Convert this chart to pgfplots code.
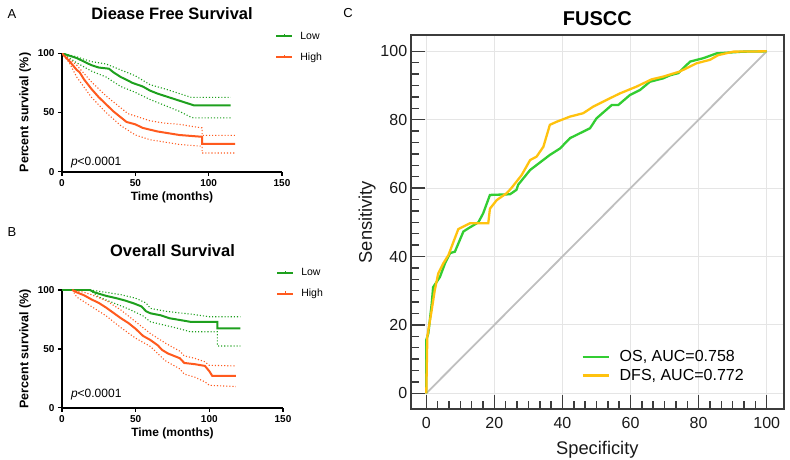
\documentclass[border=0pt]{standalone}
\usepackage{pgfplots}
\pgfplotsset{compat=1.18}
\usepackage{fontspec}
\setmainfont{Liberation Sans}
\definecolor{kmgreen}{RGB}{30,160,30}
\definecolor{kmorange}{RGB}{255,90,30}
\definecolor{rocgreen}{RGB}{50,205,50}
\definecolor{rocyellow}{RGB}{255,194,14}
\definecolor{boxgray}{RGB}{60,60,60}
\newcommand{\fs}[1]{\fontsize{#1}{#1}\selectfont}
\pgfplotsset{
  kmaxis/.style={
    scale only axis, width=220pt,
    xmin=0, xmax=150, ymin=0, ymax=100,
    axis x line*=bottom, axis y line*=left,
    axis line style={line width=1.8pt, -},
    xtick={0,50,100,150}, ytick={0,50,100},
    tick align=outside, major tick length=4pt,
    tick style={line width=1.5pt, black},
    /pgf/number format/assume math mode=true,
    tick label style={font=\bfseries\fs{10}},
    xlabel={Time (months)}, ylabel={Percent survival (\%)},
    xlabel style={font=\bfseries\fs{12}, yshift=1pt},
    ylabel style={font=\bfseries\fs{12.5}, yshift=0pt},
    title style={font=\bfseries\fs{16.5}},
    legend style={draw=none, fill=none, font=\fs{10.5}, inner sep=0pt,
      row sep=8pt, legend cell align=left,
      at={(rel axis cs:0.97,1.20)}, anchor=north west},
    legend image code/.code={\draw[#1,line width=1.5pt] (0pt,0pt) -- (16pt,0pt);
       \draw[#1,line width=1pt] (8pt,-1pt) -- (8pt,2.5pt); \path (21pt,0pt);},
    sharp plot, no marks,
  },
  main/.style={line width=2pt},
  ci/.style={line width=1.1pt, dotted, forget plot},
}
\begin{document}
\begin{tikzpicture}[x=1pt,y=1pt]
\path[use as bounding box] (0,0) rectangle (790,460);
% ---------------- Panel A ----------------
\node[font=\fs{13}] at (12,446) {A};
\begin{axis}[kmaxis, at={(62pt,288.3pt)}, anchor=south west, height=118.4pt,
  title={Diease Free Survival}, title style={at={(0.5,1)}, yshift=24pt}]
\addplot[kmgreen, main] coordinates {(0,100)(5,98)(10,96)(15,93)(20,90)(25,88)(32,87)(35,84)(40,80)(45,77)(48,75)(55,72)(60,68.5)(65,66)(70,64)(75,62)(80,60)(85,58)(90,56)(115,56)};
\addlegendentry{Low}
\addplot[kmorange, main] coordinates {(0,100)(3,96)(6,92)(10,86)(12,84)(15,78)(20,70)(25,63)(30,57)(35,51)(40,46)(44,42)(50,40)(55,37)(60,35.5)(65,34)(70,33)(75,32)(80,31)(85,30.5)(90,30)(95.5,29.5)(95.5,23.6)(118,23.6)};
\addlegendentry{High}
\addplot[kmgreen, ci] coordinates {(0,100)(10,97)(20,93)(30,91)(40,86)(50,81)(60,73.5)(70,70)(80,66)(88,62.8)(115,62.8)};
\addplot[kmgreen, ci] coordinates {(0,100)(10,92)(20,85)(30,80)(40,72)(50,67)(60,61)(70,56)(80,51)(88,46)(90,45.4)(115,45.4)};
\addplot[kmorange, ci] coordinates {(0,100)(10,90)(20,76)(30,64)(40,54)(45,49)(50,47)(60,43)(70,41)(80,40)(90,38)(95.5,37)(95.5,30.7)(118,30.7)};
\addplot[kmorange, ci] coordinates {(0,100)(5,92)(10,80)(20,63)(30,50)(40,39)(50,31)(60,27)(70,25)(80,23)(90,22)(95.5,21.5)(95.5,15.8)(118,15.8)};
\node[anchor=west, font=\fs{12}] at (rel axis cs:0.025,0.075) {\textit{p}<0.0001};
\end{axis}
% ---------------- Panel B ----------------
\node[font=\fs{13}] at (12,228) {B};
\begin{axis}[kmaxis, at={(62pt,52.3pt)}, anchor=south west, height=117.7pt, width=221pt,
  title={Overall Survival}, title style={at={(0.5,1)}, yshift=24pt}]
\addplot[kmgreen, main] coordinates {(0,100)(19,100)(22,98)(26,96.5)(30,95)(37,93)(43,91)(49,88.5)(54,86)(57,82)(60,80.2)(67,78.5)(73,76)(80,74.5)(87,73)(105.5,73)(105.5,67.4)(121,67.4)};
\addlegendentry{Low}
\addplot[kmorange, main] coordinates {(7,100)(10,98)(15,95.5)(20,92)(25,89)(30,85)(35,80.5)(40,76)(45,72)(50,67)(55,61)(60,57.5)(65,53)(68,49)(72,46)(76,44)(80,42)(83,38)(90,37)(97,35.5)(100,31)(102,27)(118,27)};
\addlegendentry{High}
\addplot[kmgreen, ci] coordinates {(19,100)(30,98)(40,96)(50,93)(57,89)(60,84.4)(70,82)(80,80.5)(87,79.6)(100,77.3)(121,77.3)};
\addplot[kmgreen, ci] coordinates {(19,100)(25,94)(35,89)(45,84)(55,78)(60,73)(70,70)(80,67)(87,64.5)(105.5,64.5)(105.5,52.4)(121,52.4)};
\addplot[kmorange, ci] coordinates {(7,100)(15,98)(20,96)(30,91)(40,83)(50,73)(60,63)(70,55)(80,48)(83,44)(90,42)(97,39)(100,36)(118,35.5)};
\addplot[kmorange, ci] coordinates {(7,100)(10,94)(20,86)(30,78)(40,68)(50,59)(60,52)(70,40)(80,33)(83,28.5)(90,26)(97,22)(100,19)(118,18)};
\node[anchor=west, font=\fs{12}] at (rel axis cs:0.025,0.108) {\textit{p}<0.0001};
\end{axis}
% ---------------- Panel C ----------------
\node[font=\fs{13}] at (348,447) {C};
\begin{axis}[at={(410.7pt,50.7pt)}, anchor=south west, scale only axis,
  width=373.3pt, height=374.3pt,
  xmin=-4.58, xmax=105.08, ymin=-4.68, ymax=104.77,
  axis line style={line width=2pt, boxgray},
  xtick={0,20,...,100}, ytick={0,20,...,100}, minor tick num=5,
  tick pos=left, tick align=inside,
  major tick length=14pt, minor tick length=8pt,
  tick style={line width=1.5pt, boxgray},
  grid=major, major grid style={line width=1pt, black!10},
  /pgf/number format/assume math mode=true,
  tick label style={font=\fs{16}, black!90},
  xticklabel style={yshift=-4pt},
  xlabel={Specificity}, ylabel={Sensitivity},
  label style={font=\fs{18.3}, black!90},
  xlabel style={yshift=-6pt}, ylabel style={yshift=-2pt},
  title={FUSCC}, title style={font=\bfseries\fs{20}, yshift=0pt},
  legend style={draw=none, fill=none, font=\fs{16}, inner sep=0pt, row sep=2pt,
    at={(axis cs:45.5,13.2)}, anchor=north west, legend cell align=left},
  legend image code/.code={\draw[#1, line width=2.3pt] (0pt,0pt) -- (26pt,0pt); \path (34pt,0pt);},
  no marks]
\addplot[black!25, line width=1.8pt, forget plot] coordinates {(0,0)(100,100)};
\addplot[rocgreen, line width=2.3pt] coordinates {(0,0)(0,15.6)(0.6,17.5)(1.6,26.3)(2,31)(4,34)(5.5,38)(7,41)(8.4,41.4)(10.9,47.3)(12.3,48.2)(15.3,50)(16.7,52.6)(18.7,58)(24.6,58.2)(26.5,59.5)(27,61)(30.5,65.3)(36.3,69.7)(39.3,71.6)(42.2,74.6)(48.1,77.5)(50,80.4)(54.5,84.3)(56.4,84.3)(59.8,87.2)(62.8,88.7)(65.7,91.1)(69.6,92.1)(71.6,93)(74,93.6)(77.5,97)(81.4,98)(85.3,99.4)(93.1,99.9)(100,100)};
\addlegendentry{OS, AUC=0.758}
\addplot[rocyellow, line width=2.3pt] coordinates {(0,0)(0.3,16.6)(1.6,24.4)(2.5,30.2)(3.5,35)(5,38)(6.5,40.4)(9.4,48)(12.8,49.7)(18.2,49.7)(18.7,54)(20.7,56.5)(23.6,58.5)(25,60)(28,63.8)(30.5,68.2)(32.4,69.2)(34.4,72.1)(36.3,78.5)(38.3,79.4)(42.2,80.9)(46.1,81.9)(49,83.8)(53,85.8)(56.9,87.7)(61.8,89.7)(66.2,91.8)(69.6,92.6)(74.5,94.1)(79.4,96.5)(83.3,97.5)(85.8,98.9)(90.2,99.9)(100,100)};
\addlegendentry{DFS, AUC=0.772}
\end{axis}
\end{tikzpicture}
\end{document}
